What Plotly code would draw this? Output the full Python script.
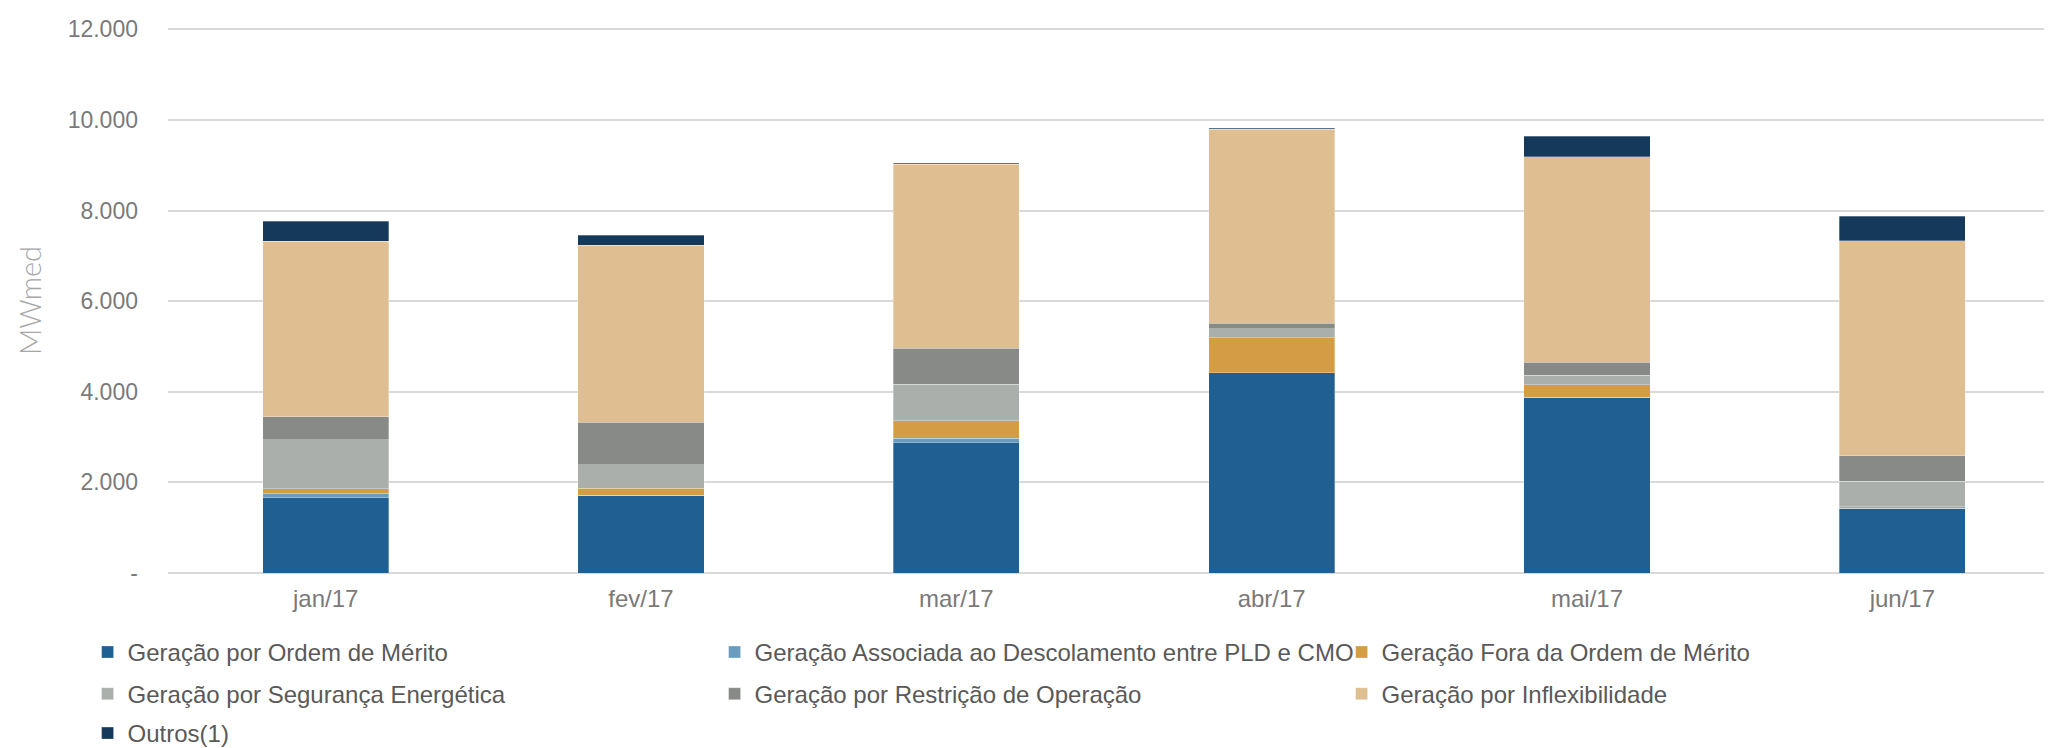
import plotly.graph_objects as go

meses = ["jan/17", "fev/17", "mar/17", "abr/17", "mai/17", "jun/17"]

ordem_merito = [1665, 1715, 2890, 4420, 3875, 1425]
descolamento_pld_cmo = [100, 0, 90, 0, 0, 0]
fora_ordem = [90, 160, 385, 770, 285, 35]
seguranca = [1090, 510, 805, 200, 210, 570]
restricao = [500, 940, 795, 120, 285, 555]
inflexibilidade = [3875, 3915, 4055, 4280, 4530, 4750]
outros = [445, 220, 20, 30, 460, 535]

y_ticks = [0, 2000, 4000, 6000, 8000, 10000, 12000]
y_ticktext = ["-", "2.000", "4.000", "6.000", "8.000", "10.000", "12.000"]

series = [
    ("Geração por Ordem de Mérito", ordem_merito, "#1f5f91", "legend"),
    ("Geração Associada ao Descolamento entre PLD e CMO", descolamento_pld_cmo, "#6a9cc0", "legend"),
    ("Geração Fora da Ordem de Mérito", fora_ordem, "#d49c44", "legend"),
    ("Geração por Segurança Energética", seguranca, "#abafab", "legend2"),
    ("Geração por Restrição de Operação", restricao, "#888a87", "legend2"),
    ("Geração por Inflexibilidade", inflexibilidade, "#dfbf91", "legend2"),
    ("Outros(1)", outros, "#14395a", "legend3"),
]

fig = go.Figure()
for nome, valores, cor, leg in series:
    fig.add_trace(go.Bar(
        x=meses, y=valores, name=nome, legend=leg,
        marker=dict(color=cor, line=dict(color="rgba(255,255,255,0.6)", width=0.5)),
    ))

font = "Liberation Sans, Arial, sans-serif"
# three one-row legends so the rows sit where the reference has them
leg_style = dict(
    orientation="h", xanchor="left", yanchor="middle", x=-0.0425,
    entrywidth=582, entrywidthmode="pixels", itemwidth=30,
    font=dict(family=font, size=24, color="#595959"),
    bgcolor="rgba(0,0,0,0)", traceorder="normal",
)

fig.update_layout(
    width=2052, height=748,
    barmode="stack", bargap=0.6,
    plot_bgcolor="white", paper_bgcolor="white",
    margin=dict(l=160, r=0, t=20, b=179),
    font=dict(family=font, color="#7a7a7a"),
    legend=dict(leg_style, y=-0.1457),
    legend2=dict(leg_style, y=-0.2222),
    legend3=dict(leg_style, y=-0.2951),
    xaxis=dict(
        tickfont=dict(size=24, color="#7a7a7a"),
        showgrid=False, showline=False, ticks="", ticklabelstandoff=9,
    ),
    yaxis=dict(
        range=[0, 12030], tickvals=y_ticks, ticktext=y_ticktext,
        tickfont=dict(size=23, color="#7a7a7a"),
        showgrid=True, gridcolor="#d9d9d9", gridwidth=1.5,
        zeroline=True, zerolinecolor="#d9d9d9", zerolinewidth=1.5,
        ticks="", ticklabelstandoff=29,
        title=dict(text="MWmed", font=dict(family="Lato, Open Sans, sans-serif", size=29,
                                           color="#a6a6a6", weight=300), standoff=17),
    ),
)

fig.write_html("out.html")
